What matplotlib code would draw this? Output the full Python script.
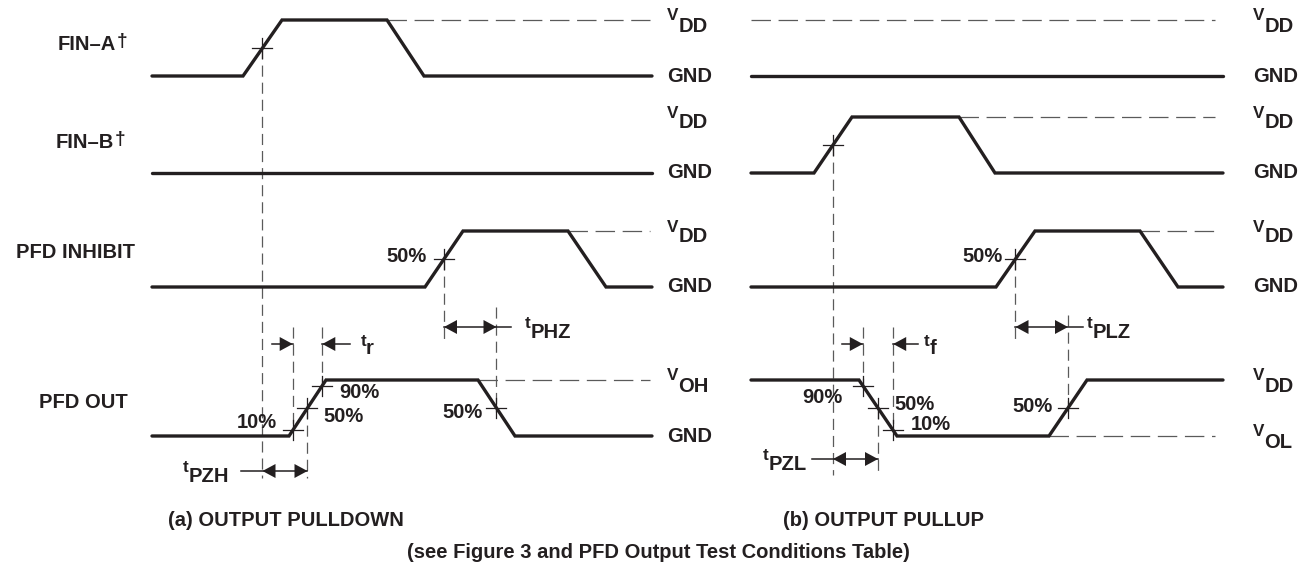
import matplotlib
matplotlib.use('Agg')
import matplotlib.pyplot as plt

plt.rcParams['font.family'] = ['Liberation Sans', 'DejaVu Sans']
plt.rcParams['font.weight'] = 'bold'
plt.rcParams['lines.scale_dashes'] = False

# ---------------- data ----------------
# each label: (small raised prefix, main text, small raised suffix)
signal_names = [('', 'FIN–A', '†'), ('', 'FIN–B', '†'), ('', 'PFD INHIBIT', ''), ('', 'PFD OUT', '')]
high_levels = [20, 117, 231, 380]
low_levels = [76, 173, 287, 436]

level_labels_a = [(('V', 'DD'), ('', 'GND')), (('V', 'DD'), ('', 'GND')),
                  (('V', 'DD'), ('', 'GND')), (('V', 'OH'), ('', 'GND'))]
level_labels_b = [(('V', 'DD'), ('', 'GND')), (('V', 'DD'), ('', 'GND')),
                  (('V', 'DD'), ('', 'GND')), (('V', 'DD'), ('V', 'OL'))]

# time spans of each panel (waveform start / end)
span_a = (152, 652)
span_b = (751, 1223)

# transitions: (start time, end time) per signal; start level
edges_a = [[(243, 282), (387, 424)], [], [(425, 463), (568, 606)], [(289, 326), (478, 515)]]
start_a = ['L', 'L', 'L', 'L']
edges_b = [[], [(814, 852), (959, 995)], [(996, 1035), (1140, 1178)], [(859, 897), (1049, 1087)]]
start_b = ['L', 'L', 'L', 'H']

# measurement points: (signal, edge index, percent)
meas_a = [(0, 0, 50), (2, 0, 50), (3, 0, 10), (3, 0, 50), (3, 0, 90), (3, 1, 50)]
meas_b = [(1, 0, 50), (2, 0, 50), (3, 0, 90), (3, 0, 50), (3, 0, 10), (3, 1, 50)]
meas_labels_a = [None, '50%', '10%', '50%', '90%', '50%']
meas_labels_b = [None, '50%', '90%', '50%', '10%', '50%']

# timing parameters: (prefix, subscript, kind, meas index 1, meas index 2)
timing_a = [('t', 'PHZ', 'out', 1, 5), ('t', 'r', 'in', 2, 4), ('t', 'PZH', 'out', 0, 3)]
timing_b = [('t', 'PLZ', 'out', 1, 5), ('t', 'f', 'in', 2, 4), ('t', 'PZL', 'out', 0, 3)]

captions = ['(a) OUTPUT PULLDOWN', '(b) OUTPUT PULLUP',
            '(see Figure 3 and PFD Output Test Conditions Table)']

# ---------------- layout / style ----------------
INK = '#231f20'
GRAY = '#5a5a5a'
FS = 14.5
SMALL = 0.85
WAVE_LW = 2.4
THIN = 0.9
DASH_H = (0, (14, 5.5))
DASH_V = (0, (8, 4.3))

name_pos = [(127, 45), (125, 143), (135, 252), (128, 403)]
label_x = {'a': 667, 'b': 1253}
dash_end = {'a': 650, 'b': 1215}
vspan_a = [(None, 478), (None, 340), (327, 431), (None, 478), (327, 387), (307, 412)]
vspan_b = [(None, 475), (None, 340), (327, 387), (None, 475), (327, 431), (315, 412)]
lab_off_a = [None, (-17, -3, 'right'), (-16, -8, 'right'), (16, 8, 'left'), (17, 7, 'left'), (-14, 4, 'right')]
lab_off_b = [None, (-13, -3, 'right'), (-40, 12, 'center'), (16, -3, 'left'), (18, -6, 'left'), (-15, -2, 'right')]
tim_lay_a = [(327, 15, 28, 'left'), (344, (21, 28), 38, 'left'), (471, 21, -33, 'right')]
tim_lay_b = [(327, 15, 19, 'left'), (344, (21, 25), 31, 'left'), (459, 21, -26, 'right')]

fig = plt.figure(figsize=(13.15, 5.66), dpi=100)
ax = fig.add_axes([0, 0, 1, 1])
ax.set_xlim(0, 1315)
ax.set_ylim(566, 0)
ax.axis('off')
renderer = fig.canvas.get_renderer()


def rich(x, y, pieces, ha='left'):
    """pieces: list of (text, scale, dy) laid out left to right."""
    texts = []
    for s, sc, dy in pieces:
        if not s:
            continue
        t = ax.text(0, y + dy, s, fontsize=FS * sc, color=INK, ha='left',
                    va='center', fontweight='bold')
        texts.append(t)
    widths = [t.get_window_extent(renderer).width for t in texts]
    total = sum(widths)
    cx = x if ha == 'left' else (x - total if ha == 'right' else x - total / 2)
    for t, w in zip(texts, widths):
        t.set_x(cx)
        cx += w


def sub_label(x, y, pre, main, ha='left'):
    if pre:
        rich(x, y, [(pre, SMALL, -4), (main, 1.0, 6)], ha)
    else:
        rich(x, y, [(main, 1.0, 0)], ha)


def level(row, s):
    return high_levels[row] if s == 'H' else low_levels[row]


def waveform(row, edges, start, span):
    xs, ys = [span[0]], [level(row, start)]
    cur = start
    for (t0, t1) in edges:
        nxt = 'L' if cur == 'H' else 'H'
        xs += [t0, t1]
        ys += [level(row, cur), level(row, nxt)]
        cur = nxt
    xs.append(span[1])
    ys.append(level(row, cur))
    return xs, ys, cur


def crossing(row, edges, start, ei, pct):
    cur = start
    for i in range(ei):
        cur = 'L' if cur == 'H' else 'H'
    nxt = 'L' if cur == 'H' else 'H'
    y0, y1 = level(row, cur), level(row, nxt)
    yp = low_levels[row] + pct / 100 * (high_levels[row] - low_levels[row])
    t = (yp - y0) / (y1 - y0)
    x0, x1 = edges[ei]
    return x0 + t * (x1 - x0), yp


def head(x, y, direction, L=13, W=7):
    ax.fill([x, x - direction * L, x - direction * L], [y, y - W, y + W],
            color=INK, lw=0, zorder=5)


def draw_panel(key, edges, start, span, labels, meas, mlabels, vspans, loffs, timing, tlay):
    for row in range(4):
        xs, ys, end = waveform(row, edges[row], start[row], span)
        ax.plot(xs, ys, color=INK, lw=WAVE_LW, solid_joinstyle='miter',
                solid_capstyle='round', zorder=4)
        if edges[row]:
            other = 'L' if end == 'H' else 'H'
            ax.plot([edges[row][-1][0], dash_end[key]], [level(row, other)] * 2,
                    color=GRAY, lw=THIN, linestyle=DASH_H, zorder=2)
        elif key == 'b':
            ax.plot([span[0], dash_end[key]], [high_levels[row]] * 2,
                    color=GRAY, lw=THIN, linestyle=DASH_H, zorder=2)
        hi, lo = labels[row]
        sub_label(label_x[key], high_levels[row], hi[0], hi[1])
        sub_label(label_x[key], low_levels[row], lo[0], lo[1])
    pts = []
    for (row, ei, pct), lab, vs, lo in zip(meas, mlabels, vspans, loffs):
        x, y = crossing(row, edges[row], start[row], ei, pct)
        pts.append((x, y))
        ax.plot([x - 10, x + 10], [y, y], color=INK, lw=THIN, zorder=3)
        ax.plot([x, x], [y - 10, y + 10], color=INK, lw=THIN, zorder=3)
        top = y if vs[0] is None else vs[0]
        ax.plot([x, x], [top, vs[1]], color=GRAY, lw=THIN, linestyle=DASH_V, zorder=2)
        if lab:
            ax.text(x + lo[0], y + lo[1], lab, fontsize=FS, color=INK,
                    ha=lo[2], va='center', fontweight='bold')
    for (pre, sub, kind, i1, i2), (y, ext, ldx, lha) in zip(timing, tlay):
        x1, x2 = pts[i1][0], pts[i2][0]
        if kind == 'out':
            if lha == 'left':
                ax.plot([x1, x2 + ext], [y, y], color=INK, lw=1.1, zorder=4)
                lx = x2 + ldx
            else:
                ax.plot([x1 - ext, x2], [y, y], color=INK, lw=1.1, zorder=4)
                lx = x1 + ldx
            head(x1, y, -1)
            head(x2, y, 1)
        else:
            ax.plot([x1 - ext[0], x1], [y, y], color=INK, lw=1.1, zorder=4)
            ax.plot([x2, x2 + ext[1]], [y, y], color=INK, lw=1.1, zorder=4)
            head(x1, y, 1)
            head(x2, y, -1)
            lx = x2 + ldx
        rich(lx, y, [(pre, SMALL, -3), (sub, 1.0, 5)], lha)


for (pre, main, suf), (x, y) in zip(signal_names, name_pos):
    rich(x, y, [(main, 1.0, 0), (suf, 0.95, -3)], 'right')

draw_panel('a', edges_a, start_a, span_a, level_labels_a, meas_a, meas_labels_a,
           vspan_a, lab_off_a, timing_a, tim_lay_a)
draw_panel('b', edges_b, start_b, span_b, level_labels_b, meas_b, meas_labels_b,
           vspan_b, lab_off_b, timing_b, tim_lay_b)

cap_pos = [(286, 520), (884, 520), (658, 552)]
for txt, (x, y) in zip(captions, cap_pos):
    ax.text(x, y, txt, fontsize=FS, color=INK, ha='center', va='center', fontweight='bold')

fig.savefig('out.png', dpi=100, facecolor='white')
